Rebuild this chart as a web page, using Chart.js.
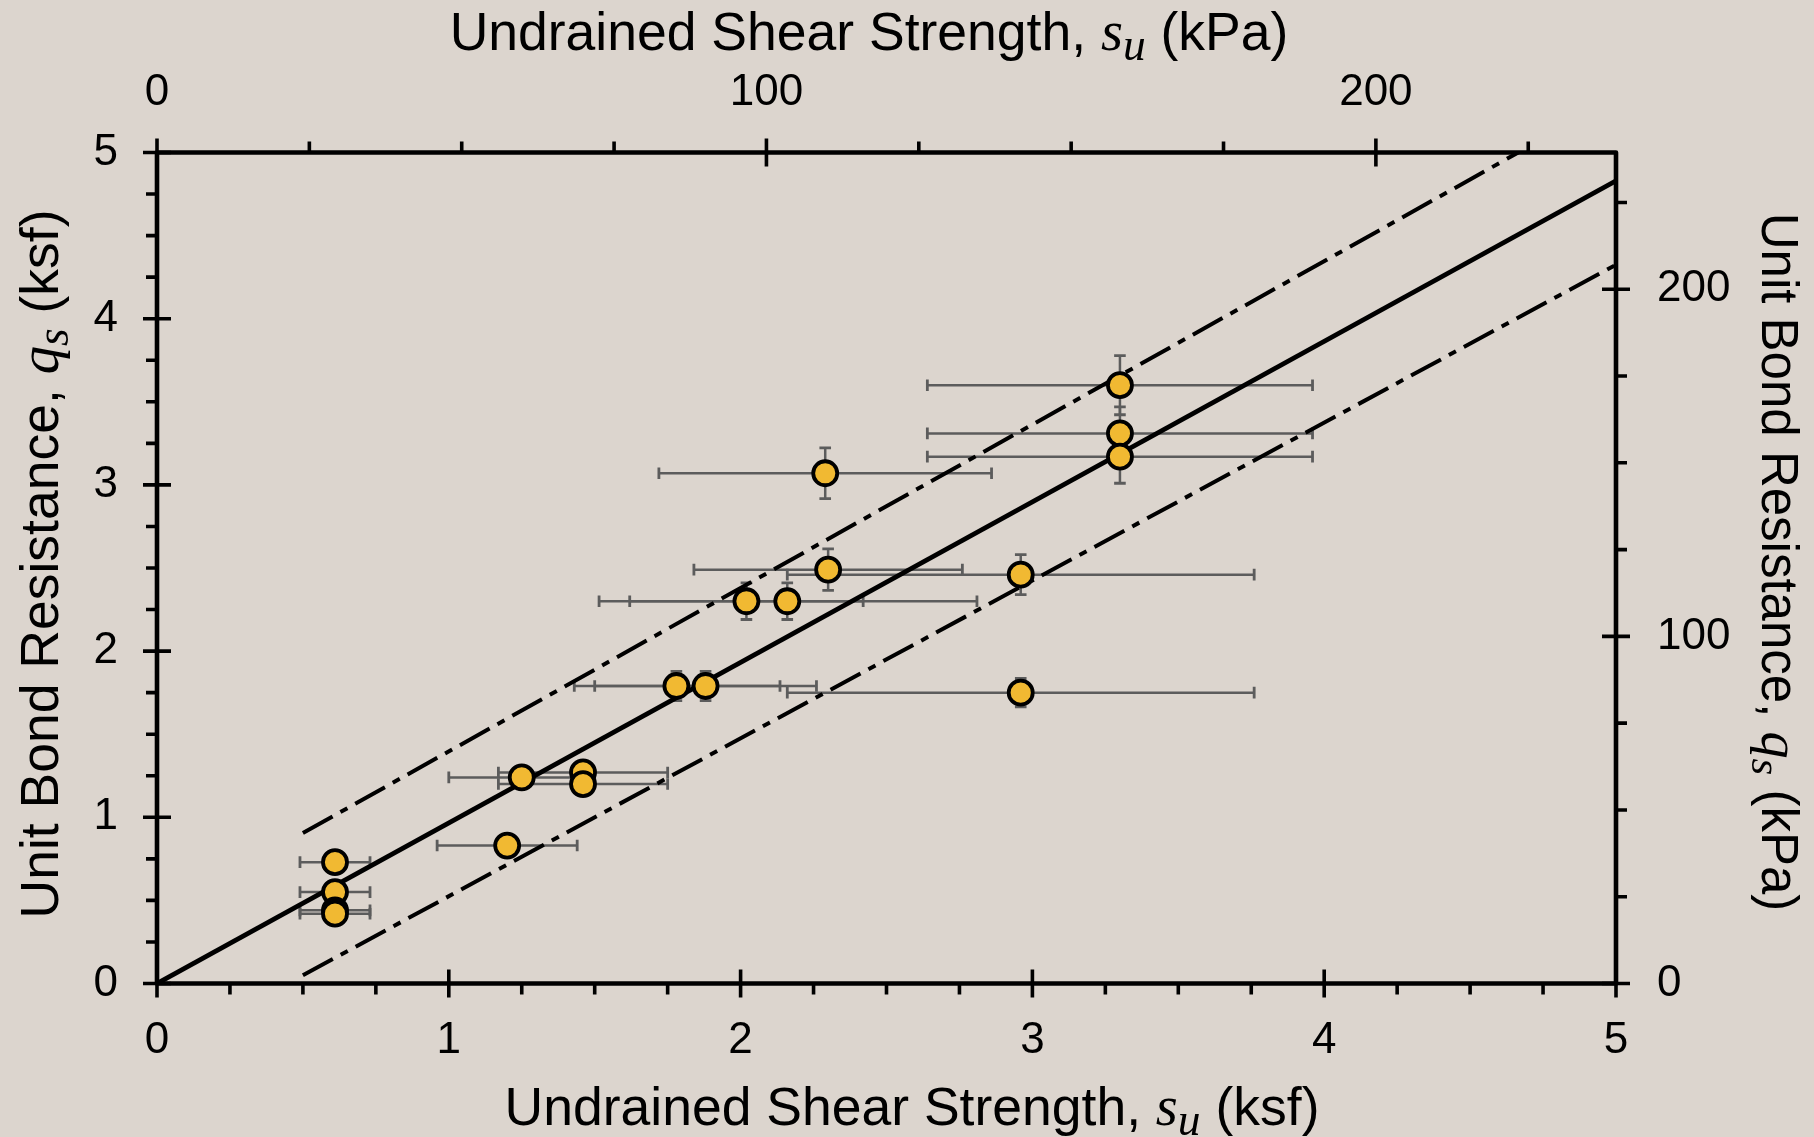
<!DOCTYPE html>
<html><head><meta charset="utf-8">
<script src="https://cdn.jsdelivr.net/npm/chart.js@4.4.1/dist/chart.umd.min.js"></script>
<style>
html,body{margin:0;padding:0;background:#DCD5CE;}
#wrap{position:relative;width:1814px;height:1137px;}
</style></head><body>
<div id="wrap"><canvas id="c"></canvas></div>
<script>
// ---------- data (ksf) ----------
const KSF_TO_KPA = 47.88;
const suKsf  = [0.61, 0.61, 0.61, 0.61, 1.20, 1.25, 1.46, 1.46, 1.78, 1.88, 2.02, 2.16, 2.29, 2.30, 2.96, 2.96, 3.30, 3.30, 3.30];
const qsKsf  = [0.73, 0.55, 0.44, 0.42, 0.83, 1.24, 1.27, 1.20, 1.79, 1.79, 2.30, 2.30, 3.07, 2.49, 2.46, 1.75, 3.60, 3.31, 3.17];
const suLow  = [0.49, 0.49, 0.49, 0.49, 0.96, 1.00, 1.17, 1.17, 1.43, 1.50, 1.62, 1.515, 1.72, 1.84, 2.16, 2.16, 2.64, 2.64, 2.64];
const suHigh = [0.73, 0.73, 0.73, 0.73, 1.44, 1.50, 1.75, 1.75, 2.135, 2.26, 2.42, 2.81, 2.86, 2.76, 3.76, 3.76, 3.96, 3.96, 3.96];
const qsErr  = [0.03, 0.03, 0.03, 0.03, 0.05, 0.05, 0.05, 0.05, 0.088, 0.088, 0.11, 0.11, 0.153, 0.125, 0.12, 0.085, 0.178, 0.16, 0.16];
const fitLine   = [{x:0, y:0}, {x:5, y:4.83}];
const upperLine = [{x:0.50, y:0.905}, {x:4.665, y:5.0}];
const lowerLine = [{x:0.50, y:0.05}, {x:5.0, y:4.325}];
// ---------- ticks ----------
const xTicksKsf = [0, 1, 2, 3, 4, 5];
const yTicksKsf = [0, 1, 2, 3, 4, 5];
const ticksKpa  = [0, 100, 200];
const minorStepKsf = 0.25;
const minorStepKpa = 25;

const BG = '#DCD5CE';
const FILL = '#F1B932';
const ERR = '#5c5c5c';
const SANS = "'Liberation Sans', Arial, sans-serif";
const SERIF = "'Liberation Serif', 'Times New Roman', serif";
const TICK_SIZE = 44;
const TITLE_SIZE = 53.5;
const RTITLE_SIZE = 51;

const bgPlugin = {
  id: 'bg',
  beforeDraw(chart) {
    const {ctx, width, height} = chart;
    ctx.save(); ctx.fillStyle = BG; ctx.fillRect(0, 0, width, height); ctx.restore();
  }
};

const errorBarPlugin = {
  id: 'errbars',
  beforeDatasetsDraw(chart) {
    const {ctx, scales: {x, y}} = chart;
    const cap = 5.8;
    ctx.save();
    ctx.strokeStyle = ERR; ctx.lineCap = 'butt';
    for (let i = 0; i < suKsf.length; i++) {
      const px = x.getPixelForValue(suKsf[i]), py = y.getPixelForValue(qsKsf[i]);
      const xl = x.getPixelForValue(suLow[i]), xh = x.getPixelForValue(suHigh[i]);
      const yl = y.getPixelForValue(qsKsf[i] - qsErr[i]), yh = y.getPixelForValue(qsKsf[i] + qsErr[i]);
      ctx.lineWidth = 2.5;
      ctx.beginPath();
      ctx.moveTo(xl, py); ctx.lineTo(xh, py);
      ctx.moveTo(px, yl); ctx.lineTo(px, yh);
      ctx.stroke();
      ctx.lineWidth = 2.8;
      ctx.beginPath();
      ctx.moveTo(xl, py - cap); ctx.lineTo(xl, py + cap);
      ctx.moveTo(xh, py - cap); ctx.lineTo(xh, py + cap);
      ctx.moveTo(px - cap, yl); ctx.lineTo(px + cap, yl);
      ctx.moveTo(px - cap, yh); ctx.lineTo(px + cap, yh);
      ctx.stroke();
    }
    ctx.restore();
  }
};

function drawRuns(ctx, runs, cx, cy, angle) {
  ctx.save();
  ctx.translate(cx, cy);
  ctx.rotate(angle);
  ctx.textBaseline = 'alphabetic';
  ctx.textAlign = 'left';
  ctx.fillStyle = '#000';
  let total = 0;
  for (const r of runs) { ctx.font = r[1]; total += ctx.measureText(r[0]).width; }
  let xx = -total / 2;
  for (const r of runs) {
    ctx.font = r[1];
    ctx.fillText(r[0], xx, r[2]);
    xx += ctx.measureText(r[0]).width;
  }
  ctx.restore();
}

function fonts(size) {
  return [size + 'px ' + SANS, 'italic ' + (size + 3) + 'px ' + SERIF, 'italic ' + (size - 8) + 'px ' + SERIF];
}

const axesPlugin = {
  id: 'axesbox',
  afterDraw(chart) {
    const {ctx, chartArea: a, scales: {x, y, x2, y2}} = chart;
    ctx.save();
    ctx.strokeStyle = '#000';
    ctx.lineWidth = 4.6;
    ctx.lineJoin = 'round';
    ctx.strokeRect(a.left, a.top, a.right - a.left, a.bottom - a.top);
    ctx.lineWidth = 3.6;
    ctx.lineCap = 'butt';
    const MAJ = 14, MIN = 11;
    ctx.beginPath();
    for (const v of xTicksKsf) { const p = x.getPixelForValue(v); ctx.moveTo(p, a.bottom - MAJ); ctx.lineTo(p, a.bottom + MAJ); }
    for (let v = minorStepKsf; v < 5; v += minorStepKsf) { if (Math.abs(v - Math.round(v)) < 1e-6) continue; const p = x.getPixelForValue(v); ctx.moveTo(p, a.bottom); ctx.lineTo(p, a.bottom + MIN); }
    for (const v of yTicksKsf) { const p = y.getPixelForValue(v); ctx.moveTo(a.left - MAJ, p); ctx.lineTo(a.left + MAJ, p); }
    for (let v = minorStepKsf; v < 5; v += minorStepKsf) { if (Math.abs(v - Math.round(v)) < 1e-6) continue; const p = y.getPixelForValue(v); ctx.moveTo(a.left - MIN, p); ctx.lineTo(a.left, p); }
    for (const v of ticksKpa) { const p = x2.getPixelForValue(v); ctx.moveTo(p, a.top - MAJ); ctx.lineTo(p, a.top + MAJ); }
    for (let v = minorStepKpa; v < 5 * KSF_TO_KPA; v += minorStepKpa) { if (v % 100 === 0) continue; const p = x2.getPixelForValue(v); ctx.moveTo(p, a.top - MIN); ctx.lineTo(p, a.top); }
    for (const v of ticksKpa) { const p = y2.getPixelForValue(v); ctx.moveTo(a.right - MAJ, p); ctx.lineTo(a.right + MAJ, p); }
    for (let v = minorStepKpa; v < 5 * KSF_TO_KPA; v += minorStepKpa) { if (v % 100 === 0) continue; const p = y2.getPixelForValue(v); ctx.moveTo(a.right, p); ctx.lineTo(a.right + MIN, p); }
    ctx.stroke();
    ctx.restore();

    const [F, FI, FS] = fonts(TITLE_SIZE);
    const [RF, RFI, RFS] = fonts(RTITLE_SIZE);
    drawRuns(ctx, [['Undrained Shear Strength, ', F, 0], ['s', FI, 0], ['u', FS, 10], [' (ksf)', F, 0]], 912, 1125, 0);
    drawRuns(ctx, [['Undrained Shear Strength, ', F, 0], ['s', FI, 0], ['u', FS, 10], [' (kPa)', F, 0]], 869, 50, 0);
    drawRuns(ctx, [['Unit Bond Resistance, ', F, 0], ['q', FI, 0], ['s', FS, 10], [' (ksf)', F, 0]], 58, 564, -Math.PI / 2);
    drawRuns(ctx, [['Unit Bond Resistance, ', RF, 0], ['q', RFI, 0], ['s', RFS, 10], [' (kPa)', RF, 0]], 1762, 562, Math.PI / 2);
  }
};

const tickFont = {family: SANS, size: TICK_SIZE};
const noGrid = {display: false, drawTicks: false};
const noBorder = {display: false};

new Chart(document.getElementById('c'), {
  type: 'scatter',
  data: {
    datasets: [
      {label: 'Measured', data: suKsf.map((v, i) => ({x: v, y: qsKsf[i]})),
       backgroundColor: FILL, borderColor: '#000', borderWidth: 3.8, pointRadius: 12, pointHoverRadius: 12, order: 0},
      {label: 'Fit', data: fitLine, showLine: true, borderColor: '#000', borderWidth: 4.8, pointRadius: 0, fill: false, order: 1},
      {label: 'Upper', data: upperLine, showLine: true, borderColor: '#000', borderWidth: 4, borderDash: [34, 9, 8, 9], borderCapStyle: 'butt', pointRadius: 0, fill: false, order: 1},
      {label: 'Lower', data: lowerLine, showLine: true, borderColor: '#000', borderWidth: 4, borderDash: [34, 9, 8, 9], borderCapStyle: 'butt', pointRadius: 0, fill: false, order: 1}
    ]
  },
  options: {
    responsive: true, maintainAspectRatio: false, animation: false,
    layout: {padding: 0},
    plugins: {legend: {display: false}, tooltip: {enabled: false}},
    scales: {
      x: {type: 'linear', position: 'bottom', min: 0, max: 5, grid: noGrid, border: noBorder,
          ticks: {font: tickFont, color: '#000', padding: 31},
          afterBuildTicks: s => { s.ticks = xTicksKsf.map(v => ({value: v})); },
          afterFit: s => { s.height = 153.5; }},
      x2: {type: 'linear', position: 'top', min: 0, max: 5 * KSF_TO_KPA, grid: noGrid, border: noBorder,
          ticks: {font: tickFont, color: '#000', padding: 33},
          afterBuildTicks: s => { s.ticks = ticksKpa.map(v => ({value: v})); },
          afterFit: s => { s.height = 152.5; }},
      y: {type: 'linear', position: 'left', min: 0, max: 5, grid: noGrid, border: noBorder,
          ticks: {font: tickFont, color: '#000', padding: 39},
          afterBuildTicks: s => { s.ticks = yTicksKsf.map(v => ({value: v})); },
          afterFit: s => { s.width = 157; }},
      y2: {type: 'linear', position: 'right', min: 0, max: 5 * KSF_TO_KPA, grid: noGrid, border: noBorder,
          ticks: {font: tickFont, color: '#000', padding: 41},
          afterBuildTicks: s => { s.ticks = ticksKpa.map(v => ({value: v})); },
          afterFit: s => { s.width = 198; }}
    }
  },
  plugins: [bgPlugin, errorBarPlugin, axesPlugin]
});
</script>
</body></html>
